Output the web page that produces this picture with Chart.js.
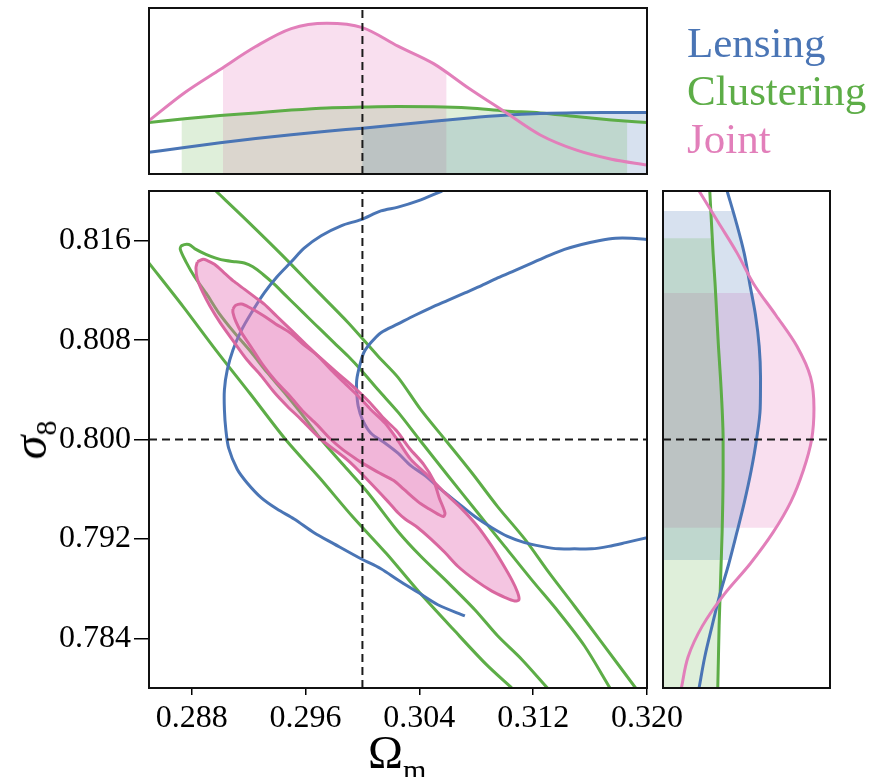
<!DOCTYPE html>
<html>
<head>
<meta charset="utf-8">
<script src="https://cdn.jsdelivr.net/npm/chart.js@4.4.0/dist/chart.umd.min.js"></script>
<style>
  body { margin: 0; background: #fff; }
  #wrap { position: relative; width: 873px; height: 777px; overflow: hidden; }
  #wrap canvas { position: absolute; left: 0; top: 0; }
  .lab { position: absolute; font-family: 'Liberation Serif', serif; white-space: nowrap; line-height: 1; }
</style>
</head>
<body>
<div id="wrap">
  <canvas id="top" width="873" height="777"></canvas>
  <canvas id="side" width="873" height="777"></canvas>
  <canvas id="main" width="873" height="777"></canvas>
  <div class="lab" style="left:687px; top:21px; font-size:43px; color:#4a75b5;">Lensing</div>
  <div class="lab" style="left:687px; top:69px; font-size:43px; color:#5dad47;">Clustering</div>
  <div class="lab" style="left:687px; top:117px; font-size:43px; color:#e27fba;">Joint</div>
  <div class="lab" style="left:30px; top:440px; font-size:48px; transform: translate(-50%, -50%) rotate(-90deg);"><i>σ</i><span style="font-size:30px; position:relative; top:10px;">8</span></div>
  <div class="lab" style="left:368px; top:729px; font-size:47px;">Ω<span style="font-size:30px; position:relative; top:12px;">m</span></div>
</div>
<script>
// axis ticks and fiducial values
const omTicks = [0.288, 0.296, 0.304, 0.312, 0.320];
const s8Ticks = [0.784, 0.792, 0.800, 0.808, 0.816];
const omRange = [0.285, 0.320];
const s8Range = [0.780, 0.820];
const trueOm = 0.300;
const trueS8 = 0.800;

// 2D contours, [Omega_m, sigma_8]
const lensOuter = [[0.3056,0.8200],[0.3039,0.8192],[0.3025,0.8187],[0.3013,0.8184],[0.2999,0.8177],[0.2985,0.8172],[0.2971,0.8164],[0.2959,0.8154],[0.2950,0.8143],[0.2940,0.8131],[0.2931,0.8118],[0.2922,0.8102],[0.2915,0.8088],[0.2909,0.8072],[0.2905,0.8056],[0.2903,0.8040],[0.2903,0.8024],[0.2904,0.8008],[0.2906,0.7993],[0.2912,0.7976],[0.2919,0.7965],[0.2929,0.7953],[0.2940,0.7944],[0.2952,0.7936],[0.2966,0.7925],[0.2980,0.7916],[0.2999,0.7904],[0.3013,0.7896],[0.3025,0.7887],[0.3039,0.7877],[0.3053,0.7867],[0.3072,0.7858]];
const lensInner = [[0.3200,0.8161],[0.3189,0.8162],[0.3178,0.8162],[0.3166,0.8160],[0.3154,0.8157],[0.3142,0.8153],[0.3131,0.8148],[0.3119,0.8142],[0.3107,0.8136],[0.3095,0.8130],[0.3084,0.8124],[0.3072,0.8118],[0.3060,0.8112],[0.3048,0.8106],[0.3037,0.8100],[0.3025,0.8093],[0.3013,0.8086],[0.3006,0.8078],[0.3001,0.8070],[0.2998,0.8059],[0.2996,0.8048],[0.2996,0.8038],[0.2997,0.8027],[0.3000,0.8016],[0.3006,0.8005],[0.3016,0.7997],[0.3025,0.7989],[0.3034,0.7979],[0.3044,0.7971],[0.3055,0.7960],[0.3067,0.7949],[0.3079,0.7938],[0.3091,0.7929],[0.3102,0.7922],[0.3114,0.7917],[0.3126,0.7914],[0.3138,0.7912],[0.3149,0.7912],[0.3161,0.7912],[0.3173,0.7914],[0.3185,0.7917],[0.3200,0.7921]];
const clustInner = [[0.3130,0.7800],[0.3112,0.7823],[0.3095,0.7842],[0.3079,0.7863],[0.3060,0.7885],[0.3041,0.7906],[0.3025,0.7926],[0.3004,0.7957],[0.2987,0.7979],[0.2971,0.8000],[0.2957,0.8021],[0.2945,0.8038],[0.2933,0.8054],[0.2922,0.8070],[0.2910,0.8086],[0.2899,0.8102],[0.2890,0.8118],[0.2882,0.8131],[0.2876,0.8143],[0.2872,0.8153],[0.2873,0.8156],[0.2878,0.8157],[0.2883,0.8153],[0.2890,0.8149],[0.2897,0.8146],[0.2904,0.8144],[0.2911,0.8143],[0.2917,0.8142],[0.2923,0.8139],[0.2930,0.8133],[0.2938,0.8125],[0.2946,0.8116],[0.2954,0.8107],[0.2962,0.8098],[0.2971,0.8088],[0.2980,0.8078],[0.2990,0.8067],[0.2999,0.8056],[0.3011,0.8040],[0.3025,0.8022],[0.3040,0.8000],[0.3060,0.7971],[0.3081,0.7941],[0.3100,0.7914],[0.3119,0.7887],[0.3138,0.7861],[0.3156,0.7834],[0.3174,0.7800]];
const clustOuterLeft = [[0.2850,0.8142],[0.2874,0.8107],[0.2897,0.8072],[0.2921,0.8037],[0.2946,0.8000],[0.2970,0.7969],[0.2993,0.7938],[0.3017,0.7908],[0.3040,0.7877],[0.3064,0.7847],[0.3087,0.7819],[0.3105,0.7800]];
const clustOuterRight = [[0.2897,0.8200],[0.2919,0.8176],[0.2943,0.8149],[0.2966,0.8122],[0.2990,0.8094],[0.3011,0.8067],[0.3025,0.8050],[0.3041,0.8024],[0.3058,0.8000],[0.3077,0.7973],[0.3095,0.7946],[0.3114,0.7920],[0.3131,0.7893],[0.3149,0.7866],[0.3168,0.7837],[0.3192,0.7800]];
const jointOuter = [[0.2884,0.8143],[0.2888,0.8145],[0.2891,0.8144],[0.2896,0.8141],[0.2903,0.8134],[0.2910,0.8127],[0.2917,0.8121],[0.2924,0.8115],[0.2931,0.8109],[0.2940,0.8099],[0.2950,0.8088],[0.2959,0.8078],[0.2969,0.8067],[0.2978,0.8056],[0.2987,0.8046],[0.2997,0.8035],[0.3006,0.8024],[0.3016,0.8013],[0.3025,0.7999],[0.3034,0.7984],[0.3046,0.7971],[0.3058,0.7957],[0.3070,0.7944],[0.3081,0.7930],[0.3091,0.7914],[0.3098,0.7901],[0.3105,0.7887],[0.3109,0.7877],[0.3110,0.7871],[0.3107,0.7870],[0.3100,0.7873],[0.3091,0.7878],[0.3079,0.7887],[0.3067,0.7898],[0.3058,0.7909],[0.3048,0.7920],[0.3039,0.7929],[0.3030,0.7936],[0.3025,0.7941],[0.3018,0.7950],[0.3004,0.7967],[0.2990,0.7983],[0.2971,0.8000],[0.2957,0.8016],[0.2947,0.8027],[0.2938,0.8038],[0.2929,0.8051],[0.2919,0.8064],[0.2910,0.8078],[0.2900,0.8094],[0.2893,0.8107],[0.2888,0.8118],[0.2884,0.8129],[0.2883,0.8138],[0.2884,0.8143]];
const jointInner = [[0.2909,0.8105],[0.2911,0.8108],[0.2915,0.8109],[0.2921,0.8106],[0.2930,0.8100],[0.2939,0.8093],[0.2949,0.8086],[0.2958,0.8077],[0.2968,0.8068],[0.2977,0.8059],[0.2986,0.8050],[0.2996,0.8040],[0.3005,0.8030],[0.3015,0.8017],[0.3024,0.8007],[0.3033,0.7993],[0.3043,0.7980],[0.3050,0.7967],[0.3054,0.7953],[0.3058,0.7941],[0.3057,0.7938],[0.3053,0.7940],[0.3047,0.7944],[0.3039,0.7950],[0.3029,0.7960],[0.3022,0.7967],[0.3012,0.7973],[0.3003,0.7979],[0.2996,0.7984],[0.2986,0.7992],[0.2977,0.8001],[0.2968,0.8012],[0.2958,0.8023],[0.2949,0.8035],[0.2939,0.8047],[0.2930,0.8060],[0.2922,0.8074],[0.2915,0.8086],[0.2911,0.8095],[0.2909,0.8102],[0.2909,0.8105]];

// top marginal (Omega_m)
const topOm = [0.285, 0.2875, 0.290, 0.2925, 0.295, 0.2975, 0.300, 0.3025, 0.305, 0.3075, 0.310, 0.3125, 0.315, 0.3175, 0.320];
const topLens = [0.131, 0.160, 0.188, 0.214, 0.237, 0.258, 0.276, 0.296, 0.318, 0.338, 0.354, 0.364, 0.369, 0.370, 0.370];
const topClust = [0.310, 0.333, 0.352, 0.368, 0.385, 0.398, 0.403, 0.406, 0.405, 0.398, 0.380, 0.368, 0.346, 0.326, 0.310];
const topJoint = [0.322, 0.490, 0.630, 0.768, 0.876, 0.908, 0.882, 0.770, 0.665, 0.515, 0.375, 0.235, 0.145, 0.089, 0.054];
const topLensBand = [0.300, 0.320];
const topClustBand = [0.2873, 0.3186];
const topJointBand = [0.2902, 0.3059];

// side marginal (sigma_8)
const sideS8 = [0.820, 0.8175, 0.815, 0.8125, 0.810, 0.8075, 0.805, 0.8025, 0.800, 0.7975, 0.795, 0.7925, 0.790, 0.7875, 0.785, 0.7825, 0.780];
const sideLens = [0.384, 0.438, 0.486, 0.520, 0.554, 0.576, 0.584, 0.582, 0.560, 0.528, 0.488, 0.442, 0.394, 0.340, 0.294, 0.250, 0.216];
const sideClust = [0.280, 0.290, 0.300, 0.312, 0.322, 0.332, 0.344, 0.354, 0.360, 0.360, 0.358, 0.354, 0.348, 0.342, 0.336, 0.332, 0.328];
const sideJoint = [0.216, 0.330, 0.444, 0.544, 0.676, 0.802, 0.884, 0.904, 0.890, 0.840, 0.766, 0.658, 0.522, 0.364, 0.236, 0.150, 0.110];
const sideLensBand = [0.7903, 0.8184];
const sideClustBand = [0.7800, 0.8162];
const sideJointBand = [0.7929, 0.8118];

const BLUE = '#4a75b5', GREEN = '#5dad47', PINK = '#e27fba', PINK_EDGE = '#d9679f';
const tickFont = { family: "'Liberation Serif', serif", size: 32 };

const pts = arr => arr.map(p => ({ x: p[0], y: p[1] }));

// black box round each panel
const framePlugin = {
  id: 'frame',
  afterDatasetsDraw(chart) {
    const { ctx, chartArea: a } = chart;
    ctx.save();
    ctx.strokeStyle = '#111';
    ctx.lineWidth = 2;
    ctx.strokeRect(a.left, a.top, a.right - a.left, a.bottom - a.top);
    ctx.restore();
  }
};

// shade the area under a marginal between its credible bounds
const bandPlugin = {
  id: 'bands',
  beforeDatasetsDraw(chart) {
    const { ctx, chartArea: a } = chart;
    const vertical = chart.options.indexAxis === 'y';
    const xs = chart.scales.x, ys = chart.scales.y;
    chart.data.datasets.forEach((ds, i) => {
      if (!ds.band) return;
      const line = chart.getDatasetMeta(i).dataset;
      line.updateControlPoints(a, vertical ? 'y' : 'x');
      const p = line.points;
      ctx.save();
      ctx.beginPath();
      if (vertical) {
        const y0 = ys.getPixelForValue(ds.band[1]), y1 = ys.getPixelForValue(ds.band[0]);
        ctx.rect(a.left, y0, a.right - a.left, y1 - y0);
      } else {
        const x0 = xs.getPixelForValue(ds.band[0]), x1 = xs.getPixelForValue(ds.band[1]);
        ctx.rect(x0, a.top, x1 - x0, a.bottom - a.top);
      }
      ctx.clip();
      ctx.beginPath();
      ctx.moveTo(p[0].x, p[0].y);
      for (let k = 1; k < p.length; k++) {
        const q = p[k - 1], r = p[k];
        ctx.bezierCurveTo(q.cp2x, q.cp2y, r.cp1x, r.cp1y, r.x, r.y);
      }
      if (vertical) {
        const base = xs.getPixelForValue(0);
        ctx.lineTo(base, p[p.length - 1].y);
        ctx.lineTo(base, p[0].y);
      } else {
        const base = ys.getPixelForValue(0);
        ctx.lineTo(p[p.length - 1].x, base);
        ctx.lineTo(p[0].x, base);
      }
      ctx.closePath();
      ctx.fillStyle = ds.bandColor;
      ctx.fill();
      ctx.restore();
    });
  }
};

const dashLine = data => ({
  data, borderColor: '#1a1a1a', borderWidth: 2, borderDash: [8, 5],
  pointRadius: 0, showLine: true, tension: 0, cubicInterpolationMode: 'default', fill: false
});

const contour = (data, color, extra) => Object.assign({
  data: pts(data), borderColor: color, borderWidth: 3, pointRadius: 0,
  showLine: true, tension: 0.3, fill: false
}, extra || {});

const baseOpts = {
  responsive: false,
  animation: false,
  events: [],
  plugins: { legend: { display: false }, tooltip: { enabled: false } }
};

// main 2D panel
new Chart(document.getElementById('main'), {
  type: 'scatter',
  data: {
    datasets: [
      dashLine([{ x: trueOm, y: s8Range[0] }, { x: trueOm, y: s8Range[1] }]),
      dashLine([{ x: omRange[0], y: trueS8 }, { x: omRange[1], y: trueS8 }]),
      contour(jointInner, PINK_EDGE, { fill: 'shape', backgroundColor: 'rgba(228,110,180,0.18)' }),
      contour(jointOuter, PINK_EDGE, { fill: 'shape', backgroundColor: 'rgba(228,110,180,0.40)' }),
      contour(lensOuter, BLUE),
      contour(lensInner, BLUE),
      contour(clustInner, GREEN),
      contour(clustOuterLeft, GREEN),
      contour(clustOuterRight, GREEN)
    ]
  },
  options: Object.assign({}, baseOpts, {
    layout: { padding: { left: 0, top: 191, right: 226, bottom: 0 } },
    scales: {
      x: {
        type: 'linear', min: omRange[0], max: omRange[1],
        afterBuildTicks: s => { s.ticks = omTicks.map(v => ({ value: v })); },
        afterFit: s => { s.height = 89; },
        ticks: { callback: v => v.toFixed(3), font: tickFont, color: '#000', padding: 4, maxRotation: 0, autoSkip: false },
        grid: { drawOnChartArea: false, tickLength: 7, color: '#000', lineWidth: 1.5 },
        border: { color: '#111', width: 2 }
      },
      y: {
        type: 'linear', min: s8Range[0], max: s8Range[1],
        afterBuildTicks: s => { s.ticks = s8Ticks.map(v => ({ value: v })); },
        afterFit: s => { s.width = 149; },
        ticks: { callback: v => v.toFixed(3), font: tickFont, color: '#000', padding: 3, autoSkip: false },
        grid: { drawOnChartArea: false, tickLength: 15, color: '#000', lineWidth: 1.5 },
        border: { color: '#111', width: 2 }
      }
    }
  }),
  plugins: [framePlugin]
});

// top marginal
const topSeries = (vals, color, band, bandColor) => ({
  data: topOm.map((x, i) => ({ x, y: vals[i] })), borderColor: color, borderWidth: 3,
  pointRadius: 0, cubicInterpolationMode: 'monotone', fill: false, band, bandColor
});
new Chart(document.getElementById('top'), {
  type: 'line',
  data: {
    datasets: [
      dashLine([{ x: trueOm, y: 0 }, { x: trueOm, y: 1 }]),
      topSeries(topJoint, PINK, topJointBand, 'rgba(228,110,180,0.22)'),
      topSeries(topLens, BLUE, topLensBand, 'rgba(74,117,181,0.22)'),
      topSeries(topClust, GREEN, topClustBand, 'rgba(93,173,71,0.2)')
    ]
  },
  options: Object.assign({}, baseOpts, {
    layout: { padding: { left: 149, top: 8, right: 226, bottom: 603 } },
    scales: {
      x: { type: 'linear', min: omRange[0], max: omRange[1], display: false },
      y: { type: 'linear', min: 0, max: 1, display: false }
    }
  }),
  plugins: [bandPlugin, framePlugin]
});

// side marginal
const sideSeries = (vals, color, band, bandColor) => ({
  data: sideS8.map((y, i) => ({ x: vals[i], y })), borderColor: color, borderWidth: 3,
  pointRadius: 0, cubicInterpolationMode: 'monotone', fill: false, band, bandColor
});
new Chart(document.getElementById('side'), {
  type: 'line',
  data: {
    datasets: [
      dashLine([{ x: 0, y: trueS8 }, { x: 1, y: trueS8 }]),
      sideSeries(sideJoint, PINK, sideJointBand, 'rgba(228,110,180,0.22)'),
      sideSeries(sideLens, BLUE, sideLensBand, 'rgba(74,117,181,0.22)'),
      sideSeries(sideClust, GREEN, sideClustBand, 'rgba(93,173,71,0.2)')
    ]
  },
  options: Object.assign({}, baseOpts, {
    indexAxis: 'y',
    layout: { padding: { left: 663, top: 191, right: 43, bottom: 89 } },
    scales: {
      x: { type: 'linear', min: 0, max: 1, display: false },
      y: { type: 'linear', min: s8Range[0], max: s8Range[1], display: false }
    }
  }),
  plugins: [bandPlugin, framePlugin]
});
</script>
</body>
</html>
